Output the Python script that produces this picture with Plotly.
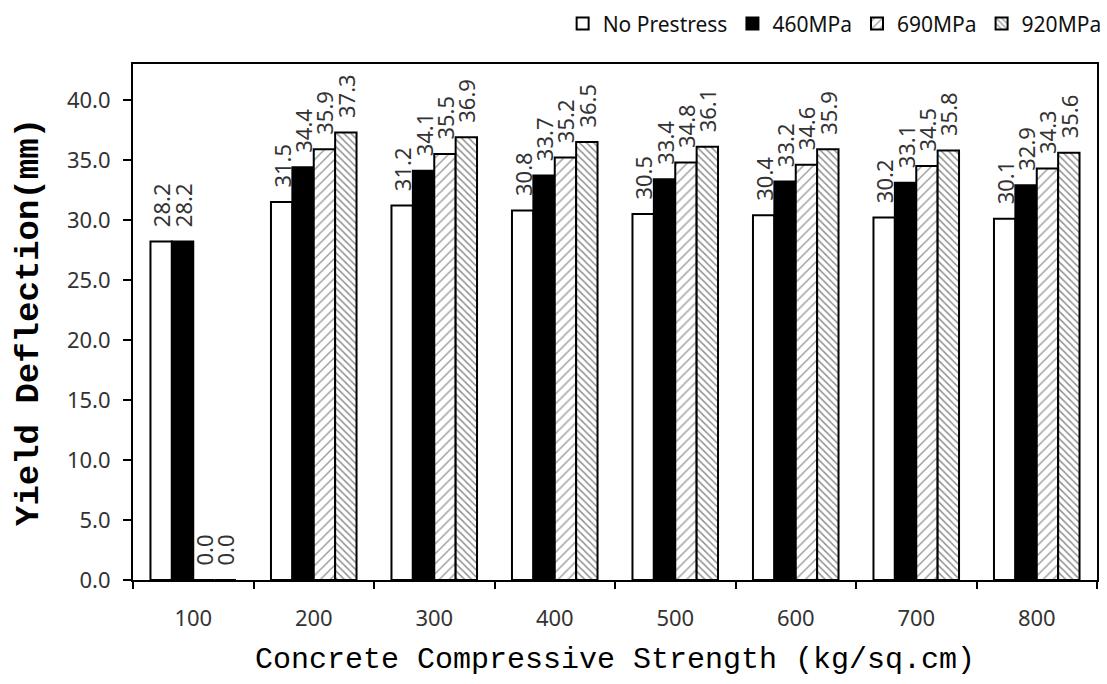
import plotly.graph_objects as go

# Concrete compressive strength groups (kg/sq.cm)
strengths = ["100", "200", "300", "400", "500", "600", "700", "800"]

# Yield deflection (mm) for each prestress level
no_prestress = [28.2, 31.5, 31.2, 30.8, 30.5, 30.4, 30.2, 30.1]
mpa_460 = [28.2, 34.4, 34.1, 33.7, 33.4, 33.2, 33.1, 32.9]
mpa_690 = [0.0, 35.9, 35.5, 35.2, 34.8, 34.6, 34.5, 34.3]
mpa_920 = [0.0, 37.3, 36.9, 36.5, 36.1, 35.9, 35.8, 35.6]

series_names = ["No Prestress", "460MPa", "690MPa", "920MPa"]

label_font = dict(family="Noto Sans, Liberation Sans, sans-serif", size=22, color="#333333")
outline = dict(color="black", width=2)

styles = [
    dict(color="white", line=outline),
    dict(color="black", line=outline),
    dict(color="white", line=outline,
         pattern=dict(shape="/", fgcolor="#444444", bgcolor="white", size=7, solidity=0.22)),
    dict(color="white", line=outline,
         pattern=dict(shape="\\", fgcolor="#222222", bgcolor="white", size=5, solidity=0.3)),
]

fig = go.Figure()
for name, vals, style in zip(series_names, [no_prestress, mpa_460, mpa_690, mpa_920], styles):
    fig.add_trace(go.Bar(
        x=strengths, y=vals, name=name, marker=style,
        # leading non-breaking spaces lift the rotated label off the bar top
        text=["\u00a0\u00a0" + f"{v:.1f}" for v in vals], textposition="outside",
        textangle=-90, textfont=label_font, constraintext="none",
        cliponaxis=False,
    ))

tick_font = dict(family="Noto Sans, Liberation Sans, sans-serif", size=22, color="#333333")

fig.update_layout(
    width=1107, height=684,
    margin=dict(l=133, r=8, t=64, b=104),
    plot_bgcolor="white", paper_bgcolor="white",
    barmode="group", bargap=0.29, bargroupgap=0,
    showlegend=True,
    legend=dict(
        orientation="h", xref="paper", x=1.01, xanchor="right",
        yref="container", y=0.965, yanchor="middle",
        font=dict(family="Noto Sans, Liberation Sans, sans-serif", size=21, color="#111111"),
        itemwidth=30, traceorder="normal", bgcolor="rgba(0,0,0,0)",
    ),
    xaxis=dict(
        type="category", tickson="boundaries",
        ticks="outside", ticklen=7, tickwidth=2, tickcolor="black",
        showline=True, linecolor="black", linewidth=2, mirror=True,
        showgrid=False, tickfont=tick_font, ticklabelstandoff=18,
        title=dict(text="Concrete Compressive Strength (kg/sq.cm)",
                   font=dict(family="Liberation Mono, Courier New, monospace", size=30, color="black"),
                   standoff=16),
    ),
    yaxis=dict(
        range=[0, 43], dtick=5, tickformat=".1f",
        ticks="outside", ticklen=8, tickwidth=2, tickcolor="black",
        showline=True, linecolor="black", linewidth=2, mirror=True,
        showgrid=False, zeroline=False, tickfont=tick_font, ticklabelstandoff=8,
        title=dict(text="<b>Yield Deflection(mm)</b>",
                   font=dict(family="Liberation Mono, Courier New, monospace", size=34, color="black"),
                   standoff=18),
    ),
    # Overlay axis drawing the inner half of the crossing y ticks
    yaxis2=dict(
        overlaying="y", side="left", matches="y", range=[0, 43], dtick=5,
        ticks="inside", ticklen=8, tickwidth=2, tickcolor="black",
        showticklabels=False, showgrid=False, zeroline=False, showline=False,
    ),
)

fig.write_html("out.html")
